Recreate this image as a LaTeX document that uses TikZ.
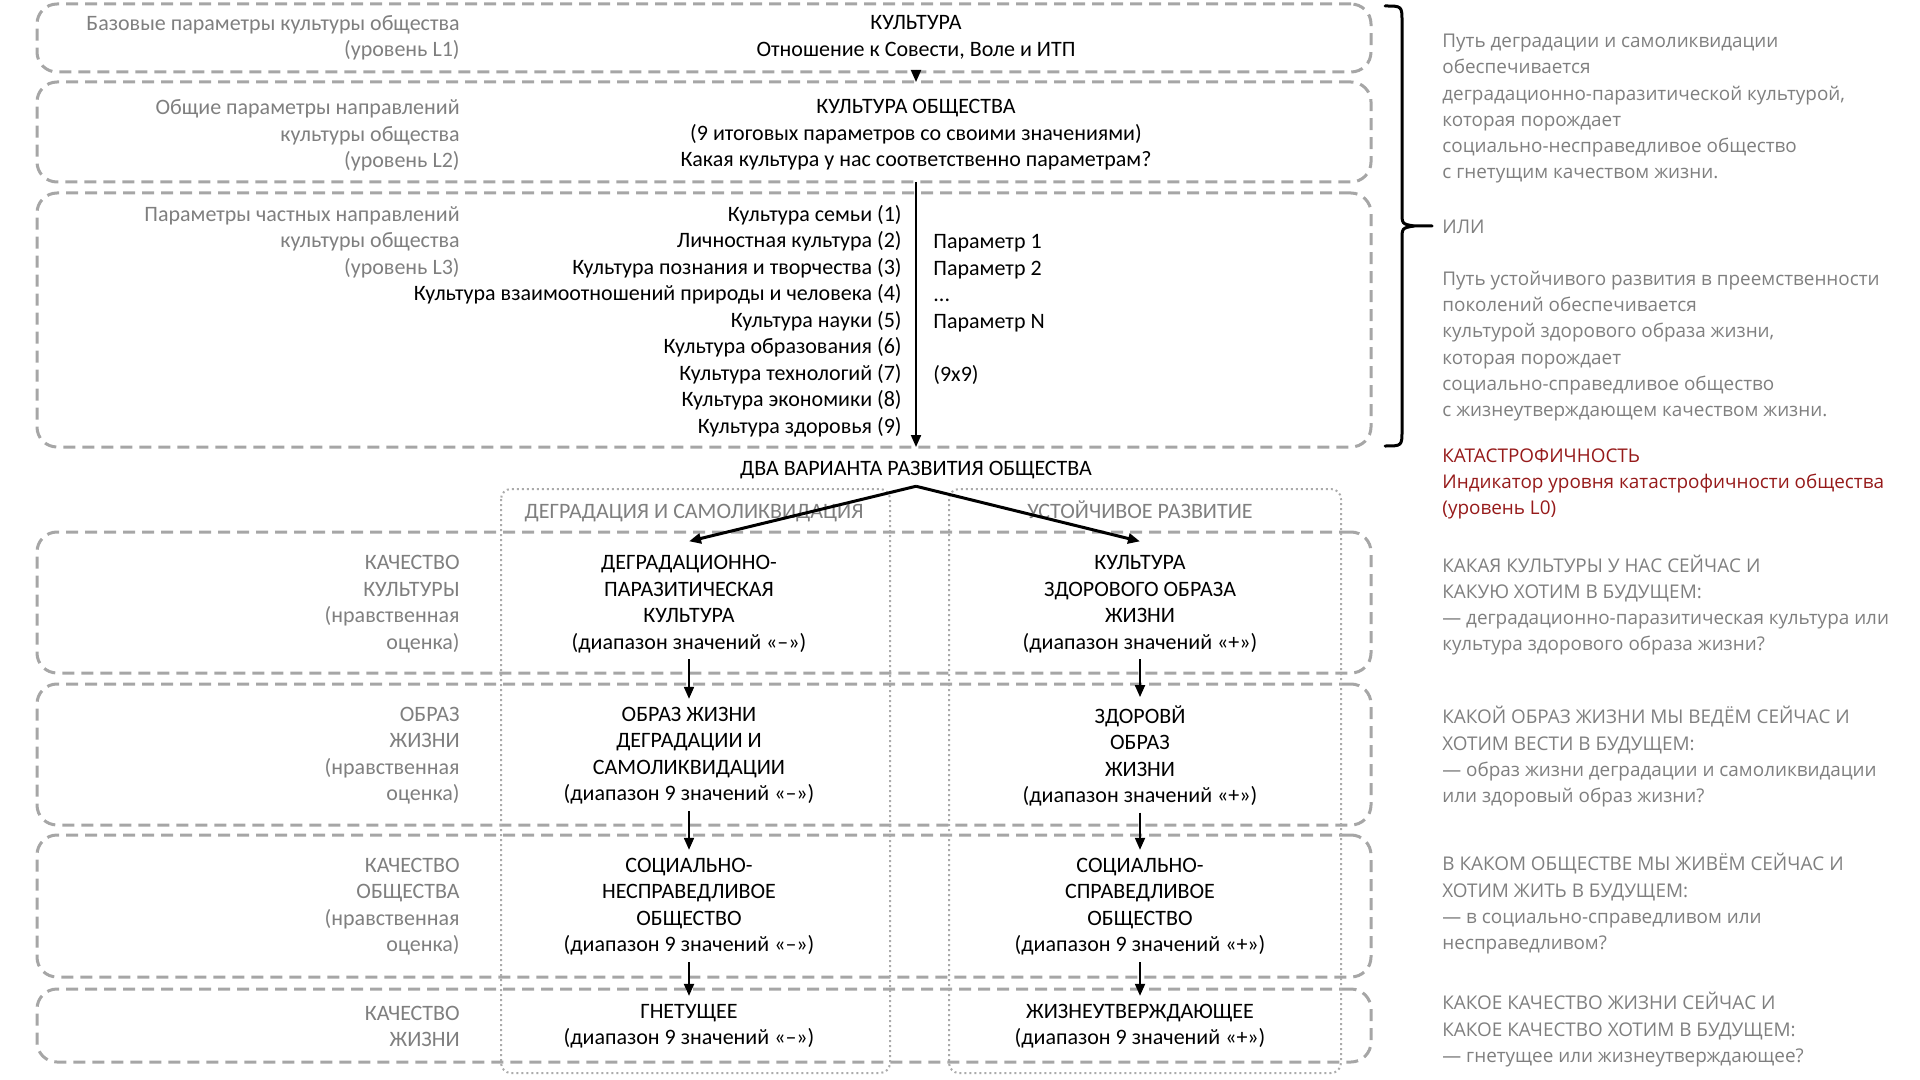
\documentclass[tikz,border=0pt]{standalone}
\usepackage{fontspec}
\setmainfont{Carlito}
\newfontfamily\notefont{Open Sans}
\usetikzlibrary{positioning,arrows.meta}
\definecolor{lblgray}{HTML}{7F7F7F}
\definecolor{boxgray}{HTML}{A6A6A6}
\definecolor{dotgray}{HTML}{ABABAB}
\definecolor{alarmred}{HTML}{961A1A}
\tikzset{
  >={Triangle[length=6pt,width=5pt]},
  lvlbox/.style={draw=boxgray,line width=1.5pt,dash pattern=on 6pt off 3.5pt,
    rounded corners=10pt,minimum width=667pt,inner sep=0pt,outer sep=0pt},
  colbox/.style={draw=dotgray,line width=1pt,dash pattern=on 1pt off 1.5pt,
    rounded corners=5pt},
  ctxt/.style={font=\fontsize{11}{13.25}\selectfont,align=center,inner sep=1pt,
    yshift=-1.2pt},
  lbl/.style={ctxt,text=lblgray,align=right,anchor=east},
  note/.style={font=\notefont\fontsize{9.45}{13.1}\selectfont,text=lblgray,
    align=left,anchor=west,inner sep=0pt,yshift=-1.6pt},
  flow/.style={->,line width=1pt},
  fork/.style={->,line width=1.5pt},
  bracepath/.style={line width=1.5pt,line cap=round},
}
\begin{document}
\begin{tikzpicture}[x=0.5pt,y=-0.5pt]
  \useasboundingbox (0,0) rectangle (1920,1080);
  \coordinate (axis) at (916,0);
  % level boxes
  \node[lvlbox,minimum height=34pt] (box1) at (704,38) {};
  \node[lvlbox,minimum height=50pt] (box2) at (704,132) {};
  \node[lvlbox,minimum height=127pt] (box3) at (704,320) {};
  \node[lvlbox,minimum height=70.5pt] (box4) at (704,602.5) {};
  \node[lvlbox,minimum height=70.5pt] (box5) at (704,754.5) {};
  \node[lvlbox,minimum height=71pt] (box6) at (704,906) {};
  \node[lvlbox,minimum height=36.5pt] (box7) at (704,1025.5) {};
  % the two dotted columns
  \draw[colbox] (501,489) rectangle (890,1073);
  \draw[colbox] (949,489) rectangle (1341,1073);

  % left labels
  \node[lbl] (lb1) at (462,35.5) {Базовые параметры культуры общества\\(уровень L1)};
  \node[lbl] (lb2) at (462,133) {Общие параметры направлений\\культуры общества\\(уровень L2)};
  \node[lbl] (lb3) at (462,239.5) {Параметры частных направлений\\культуры общества\\(уровень L3)};
  \node[lbl] (lb4) at (462,602) {КАЧЕСТВО\\КУЛЬТУРЫ\\(нравственная\\оценка)};
  \node[lbl] (lb5) at (462,753.5) {ОБРАЗ\\ЖИЗНИ\\(нравственная\\оценка)};
  \node[lbl] (lb6) at (462,904.5) {КАЧЕСТВО\\ОБЩЕСТВА\\(нравственная\\оценка)};
  \node[lbl] (lb7) at (462,1024) {КАЧЕСТВО\\ЖИЗНИ};

  % upper levels
  \node[ctxt] (l1) at (916,35) {КУЛЬТУРА\\Отношение к Совести, Воле и ИТП};
  \node[ctxt] (l2) at (916,132.5) {КУЛЬТУРА ОБЩЕСТВА\\(9 итоговых параметров со своими значениями)\\Какая культура у нас соответственно параметрам?};
  \node[ctxt,align=right,anchor=east] (l3) at (904,318.5) {Культура семьи (1)\\Личностная культура (2)\\Культура познания и творчества (3)\\Культура взаимоотношений природы и человека (4)\\Культура науки (5)\\Культура образования (6)\\Культура технологий (7)\\Культура экономики (8)\\Культура здоровья (9)};
  \node[ctxt,align=left,anchor=west] (prm) at (931,307) {Параметр 1\\Параметр 2\\...\\Параметр N\\\mbox{}\\(9x9)};
  \draw[flow] ([yshift=1pt]box1.south -| axis) -- (box2.north -| axis);
  \draw[flow] (box2.south -| axis) -- (box3.south -| axis);

  % two ways
  \node[ctxt] (two) at (916,468) {ДВА ВАРИАНТА РАЗВИТИЯ ОБЩЕСТВА};
  \node[ctxt,text=lblgray] (hdeg) at (694,511) {ДЕГРАДАЦИЯ И САМОЛИКВИДАЦИЯ};
  \node[ctxt,text=lblgray] (hsus) at (1140,507) {УСТОЙЧИВОЕ РАЗВИТИЕ};

  \node[ctxt] (dq1) at (689,602) {ДЕГРАДАЦИОННО-\\ПАРАЗИТИЧЕСКАЯ\\КУЛЬТУРА\\(диапазон значений «–»)};
  \node[ctxt] (dq2) at (689,753.5) {ОБРАЗ ЖИЗНИ\\ДЕГРАДАЦИИ И\\САМОЛИКВИДАЦИИ\\(диапазон 9 значений «–»)};
  \node[ctxt] (dq3) at (689,904.5) {СОЦИАЛЬНО-\\НЕСПРАВЕДЛИВОЕ\\ОБЩЕСТВО\\(диапазон 9 значений «–»)};
  \node[ctxt] (dq4) at (689,1024) {ГНЕТУЩЕЕ\\(диапазон 9 значений «–»)};
  \node[ctxt] (sq1) at (1140,602) {КУЛЬТУРА\\ЗДОРОВОГО ОБРАЗА\\ЖИЗНИ\\(диапазон значений «+»)};
  \node[ctxt] (sq2) at (1140,753.5) {ЗДОРОВЙ\\ОБРАЗ\\ЖИЗНИ\\(диапазон значений «+»)};
  \node[ctxt] (sq3) at (1140,904.5) {СОЦИАЛЬНО-\\СПРАВЕДЛИВОЕ\\ОБЩЕСТВО\\(диапазон 9 значений «+»)};
  \node[ctxt] (sq4) at (1140,1024) {ЖИЗНЕУТВЕРЖДАЮЩЕЕ\\(диапазон 9 значений «+»)};

  \draw[fork] ([yshift=-2.3pt]two.south) -- ([yshift=6pt]dq1.north);
  \draw[fork] ([yshift=-2.3pt]two.south) -- ([yshift=6pt]sq1.north);
  \foreach \a/\b in {dq1/dq2,dq2/dq3,dq3/dq4,sq1/sq2,sq2/sq3,sq3/sq4}
    \draw[flow,shorten <=2pt,shorten >=3pt] (\a) -- (\b);

  % right brace and notes
  \draw[bracepath] (1385,6) .. controls (1402,6) .. (1402,22) -- (1402,212)
    .. controls (1402,224) .. (1414,226) -- (1432,226);
  \draw[bracepath] (1414,226) .. controls (1402,228) .. (1402,240) -- (1402,430)
    .. controls (1402,446) .. (1385,446);
  \node[note] (rp1) at (1442,105.5) {Путь деградации и самоликвидации\\обеспечивается\\деградационно-паразитической культурой,\\которая порождает\\социально-несправедливое общество\\с гнетущим качеством жизни.};
  \node[note] (ili) at (1442,224) {ИЛИ};
  \node[note] (rp2) at (1442,343) {Путь устойчивого развития в преемственности\\поколений обеспечивается\\культурой здорового образа жизни,\\которая порождает\\социально-справедливое общество\\с жизнеутверждающем качеством жизни.};
  \node[note,text=alarmred] (rl0) at (1442,480.5) {КАТАСТРОФИЧНОСТЬ\\Индикатор уровня катастрофичности общества\\(уровень L0)};
  \node[note] (rq1) at (1442,602) {КАКАЯ КУЛЬТУРЫ У НАС СЕЙЧАС И\\КАКУЮ ХОТИМ В БУДУЩЕМ:\\— деградационно-паразитическая культура или\\культура здорового образа жизни?};
  \node[note] (rq2) at (1442,753.5) {КАКОЙ ОБРАЗ ЖИЗНИ МЫ ВЕДЁМ СЕЙЧАС И\\ХОТИМ ВЕСТИ В БУДУЩЕМ:\\— образ жизни деградации и самоликвидации\\или здоровый образ жизни?};
  \node[note] (rq3) at (1442,900.5) {В КАКОМ ОБЩЕСТВЕ МЫ ЖИВЁМ СЕЙЧАС И\\ХОТИМ ЖИТЬ В БУДУЩЕМ:\\— в социально-справедливом или\\несправедливом?};
  \node[note] (rq4) at (1442,1026.5) {КАКОЕ КАЧЕСТВО ЖИЗНИ СЕЙЧАС И\\КАКОЕ КАЧЕСТВО ХОТИМ В БУДУЩЕМ:\\— гнетущее или жизнеутверждающее?};
\end{tikzpicture}
\end{document}
